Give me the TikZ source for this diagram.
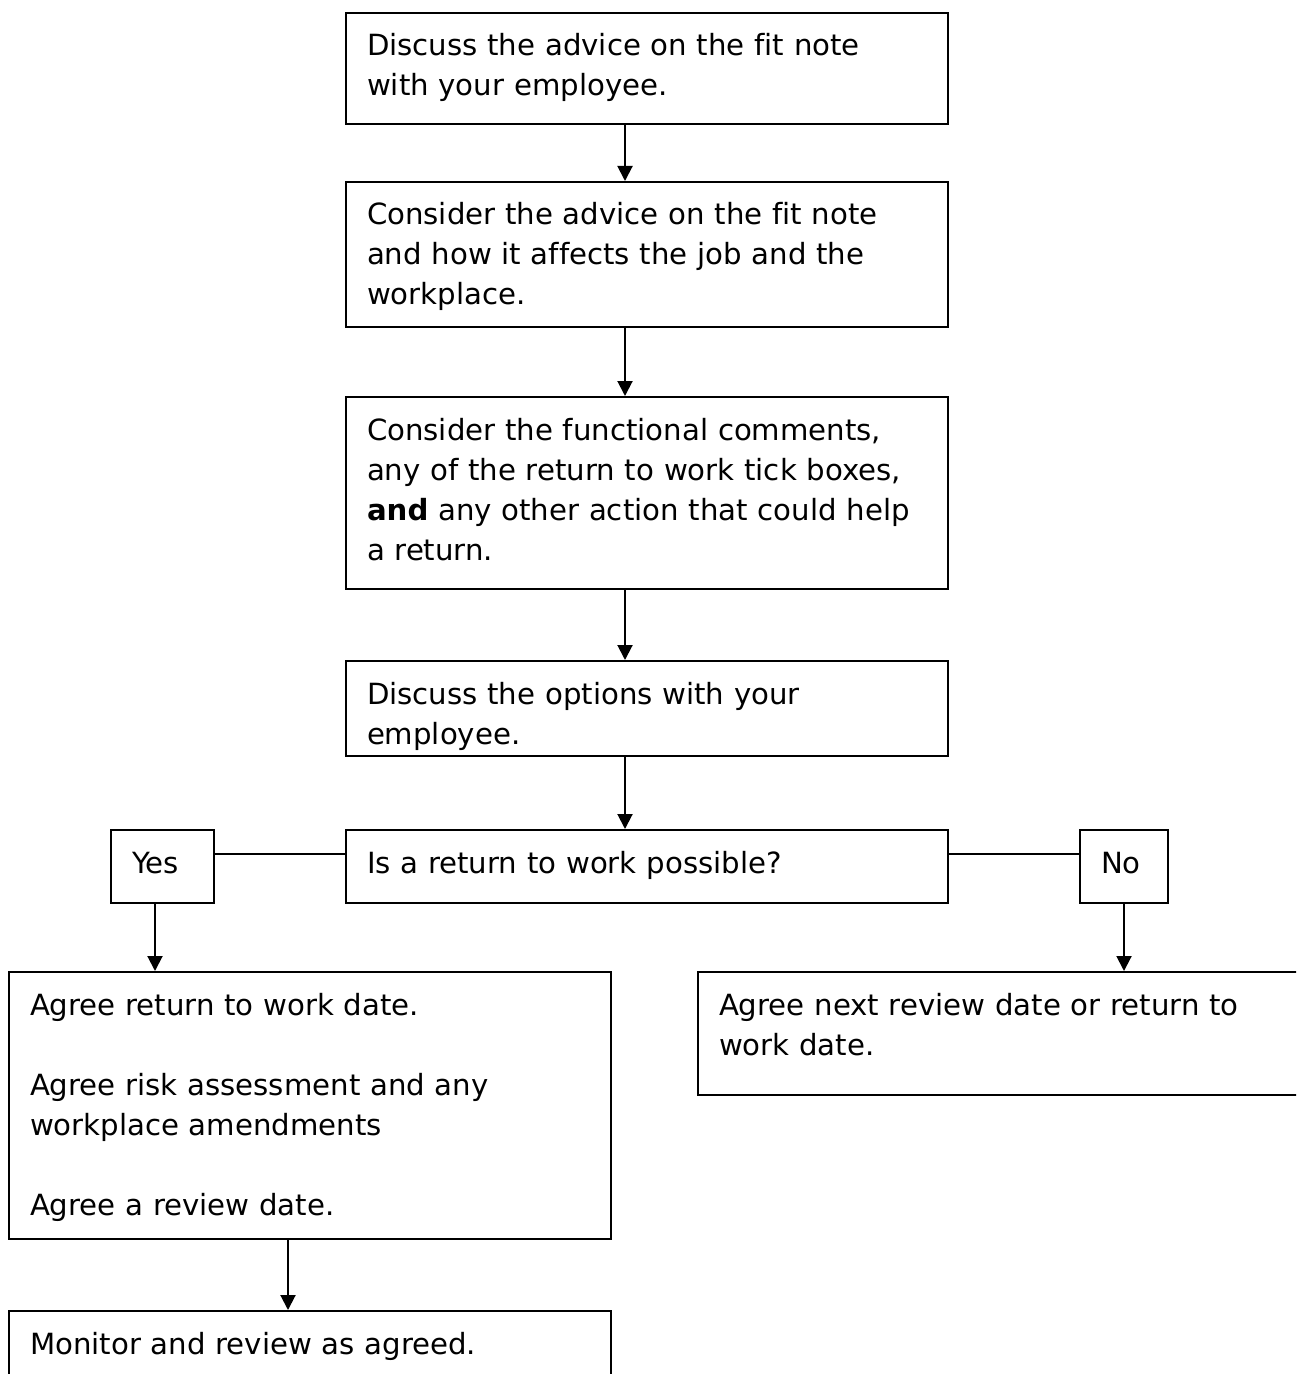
\documentclass[tikz,border=0pt]{standalone}
\usepackage{fontspec}
\setmainfont[Ligatures=NoCommon]{DejaVu Sans}
\usetikzlibrary{arrows.meta, positioning}

\begin{document}
\begin{tikzpicture}[
        % Style for the steps
        stepbox/.style={
                rectangle,
                draw=black,
                line width=1pt,
                inner xsep=10.5pt,
                inner ysep=0pt,
                text width=#1,
                align=left,
                text height=21.5pt,
                font=\fontsize{14.6}{20}\selectfont
            },
        stepbox/.default=280pt,
        % Style for the arrows
        flow/.style={
                -{Triangle[width=7.5pt,length=7.5pt]},
                line width=1pt
            }
    ]

    % PAGE
    \useasboundingbox (0,0) rectangle (648pt,-687pt);
    \clip (0,0) rectangle (648pt,-687pt);

    % MAIN STEPS
    \node[stepbox, text depth=34pt, anchor=north west] (discuss) at (172.5pt,-6pt) {Discuss the advice on the fit note\\with your employee.};
    \node[stepbox, text depth=51pt, below=28pt of discuss] (consider) {Consider the advice on the fit note\\and how it affects the job and the\\workplace.};
    \node[stepbox, text depth=74.5pt, below=34pt of consider] (functional) {Consider the functional comments,\\any of the return to work tick boxes,\\\textbf{and} any other action that could help\\a return.};
    \node[stepbox, text depth=26pt, below=35pt of functional] (options) {Discuss the options with your\\employee.};
    \node[stepbox, text depth=15pt, below=36pt of options] (question) {Is a return to work possible?};

    % ANSWERS
    \node[stepbox=30.5pt, text depth=15pt, left=65pt of question] (yes) {Yes};
    \node[stepbox=23pt, text depth=15pt, right=65pt of question] (no) {No};

    % OUTCOMES
    \node[stepbox, text depth=112pt, anchor=north west] (agree) at (4pt,-485.5pt) {Agree return to work date.\\[20pt]Agree risk assessment and any\\workplace amendments\\[20pt]Agree a review date.};
    \node[stepbox, text depth=40pt, anchor=north west] (review) at (348.5pt,-485.5pt) {Agree next review date or return to\\work date.};
    \node[stepbox, text depth=38.5pt, below=35pt of agree] (monitor) {Monitor and review as agreed.};

    % CONNECTORS
    \foreach \a/\b in {discuss/consider, consider/functional, functional/options, options/question}
        \draw[flow] ([xshift=-11pt]\a.south) -- ([xshift=-11pt]\b.north);
    \draw[line width=1pt] ([yshift=6.25pt]yes.east) -- ([yshift=6.25pt]question.west);
    \draw[line width=1pt] ([yshift=6.25pt]question.east) -- ([yshift=6.25pt]no.west);
    \draw[flow] ([xshift=-3.75pt]yes.south) -- ([xshift=-3.75pt]yes.south |- agree.north);
    \draw[flow] (no.south) -- (no.south |- review.north);
    \draw[flow] ([xshift=-11pt]agree.south) -- ([xshift=-11pt]monitor.north);

\end{tikzpicture}
\end{document}
